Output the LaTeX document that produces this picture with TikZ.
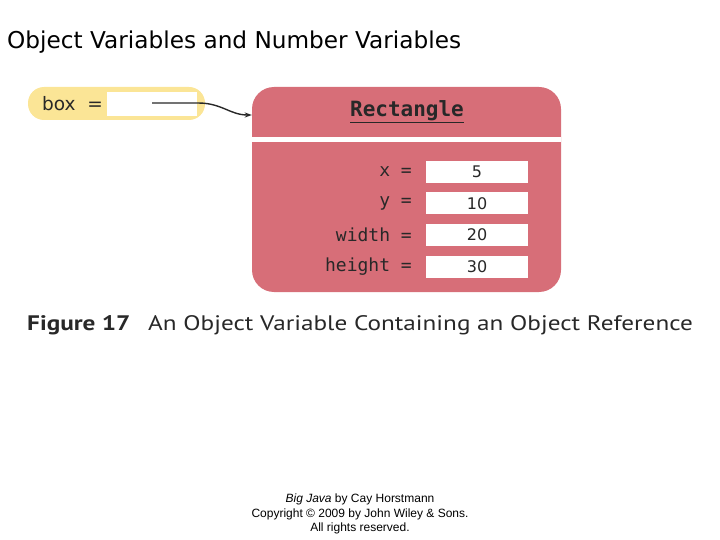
\documentclass[tikz,border=0pt]{standalone}
\usepackage{fontspec}
\setmainfont{DejaVu Sans}
\setmonofont{DejaVu Sans Mono}
\newfontfamily\capfont[FakeStretch=1.2]{PT Sans}
\newfontfamily\copyfont{Liberation Sans}
\usetikzlibrary{arrows.meta}
\definecolor{boxyellow}{RGB}{251,229,150}
\definecolor{objred}{RGB}{215,110,120}
\definecolor{inkgray}{RGB}{40,40,40}
\tikzset{
  valbox/.style={fill=white, minimum width=102pt, minimum height=22pt,
    inner sep=0pt, text=inkgray, font=\fontsize{16}{16}\selectfont},
  fieldlbl/.style={anchor=east, inner sep=0pt, text=inkgray,
    font=\ttfamily\fontsize{18}{18}\selectfont},
}
\begin{document}
\begin{tikzpicture}[x=1pt, y=-1pt, >=Stealth]
    \useasboundingbox (0,0) rectangle (720,540);
    % ── Title ───────────────────────────────────────────────────────────────
    \node[anchor=base west, inner sep=0pt, font=\fontsize{23.2}{23.2}\selectfont]
      (title) at (7,49) {Object Variables and Number Variables};
    % ── Variable box (yellow) ───────────────────────────────────────────────
    \node[fill=boxyellow, rounded corners=16pt, minimum width=177pt,
      minimum height=33pt, inner sep=0pt] (var) at (116.5,103.5) {};
    \node[anchor=west, inner sep=0pt, text=inkgray,
      font=\fontsize{18.5}{18.5}\selectfont] (varlbl) at (42,104) {box\ \ =};
    \node[fill=white, minimum width=90pt, minimum height=24pt, inner sep=0pt]
      (ref) at (152,104) {};
    \coordinate (ptr) at (152,103);
    % ── Object (red) ────────────────────────────────────────────────────────
    \node[fill=objred, rounded corners=22pt, minimum width=309pt,
      minimum height=205pt, inner sep=0pt] (obj) at (406.5,189.5) {};
    \node[minimum width=309pt, minimum height=56pt, inner sep=0pt]
      (hdr) at (406.5,115) {};
    \node[text=inkgray, font=\ttfamily\bfseries\fontsize{21}{21}\selectfont]
      (cls) at (407,112) {\underline{Rectangle}};
    % white line under the header
    \coordinate (sepL) at (252,140);
    \coordinate (sepR) at (561,140);
    \draw[white, line width=5pt] (sepL) -- (sepR);
    % fields, one row each
    \foreach \name/\val [count=\i] in {x/5, y/10, width/20, height/30} {
      \node[valbox] (v\i) at (477,{172+(\i-1)*31.5}) {\val};
      \node[fieldlbl] (f\i) at (412,{172+(\i-1)*31.5}) {\name\ =};
    }
    % ── Reference arrow ─────────────────────────────────────────────────────
    \draw[-{Stealth[length=7pt,width=5pt]}, inkgray, line width=1.4pt] (ptr) -- ++(46,0)
      .. controls +(24,0) and +(-22,0) .. (hdr.west);
    % ── Caption ─────────────────────────────────────────────────────────────
    \node[anchor=base west, inner sep=0pt, text=inkgray,
      font=\capfont\bfseries\fontsize{21}{21}\selectfont]
      (fig) at (27,330) {Figure 17};
    \node[anchor=base west, inner sep=0pt, text=inkgray,
      font=\capfont\fontsize{21}{21}\selectfont]
      (cap) at (148,330) {An Object Variable Containing an Object Reference};
    % ── Copyright ───────────────────────────────────────────────────────────
    \node[align=center, inner sep=0pt, font=\copyfont\fontsize{12}{14.5}\selectfont]
      (copy) at (360,514) {\textit{Big Java} by Cay Horstmann\\
      Copyright © 2009 by John Wiley \& Sons.\\All rights reserved.};
\end{tikzpicture}
\end{document}
